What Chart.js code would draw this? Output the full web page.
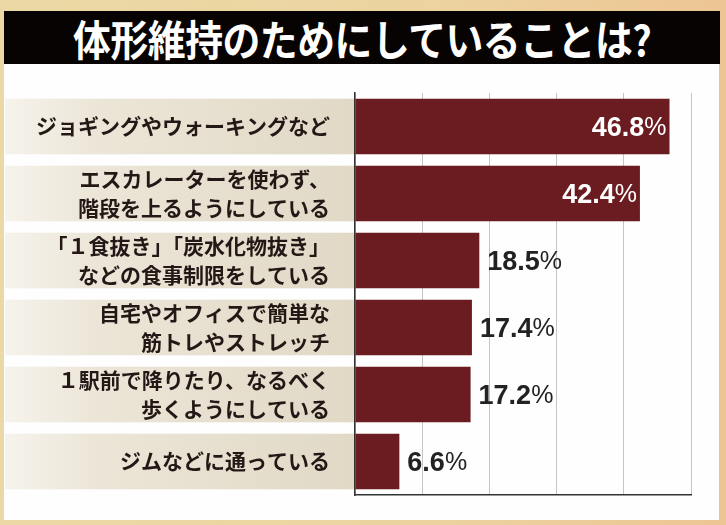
<!DOCTYPE html>
<html>
<head>
<meta charset="utf-8">
<script src="https://cdn.jsdelivr.net/npm/chart.js@4/dist/chart.umd.min.js"></script>
<style>
  html, body { margin: 0; padding: 0; }
  body { width: 726px; height: 525px; position: relative; overflow: hidden;
         background: linear-gradient(90deg, #ead9a4 0%, #ecd3a0 60%, #ecc593 100%); }
  #title { position: absolute; left: 4px; top: 11px; width: 716px; height: 53px; background: #070303;
           color: #fff; font-family: "Noto Sans CJK JP", sans-serif; font-weight: 700; font-size: 42px;
           line-height: 53px; text-align: center; overflow: hidden; }
  #title span { display: inline-block; transform: scaleX(0.9); letter-spacing: -0.5px; }
  #panel { position: absolute; left: 4px; top: 64px; width: 715px; height: 456px; background: #fefefe; }
  #c { position: absolute; left: 0; top: 0; }
</style>
</head>
<body>
<div id="title"><span>体形維持のためにしていることは?</span></div>
<div id="panel"><canvas id="c" width="715" height="456"></canvas></div>
<script>
const categories = [
  ["ジョギングやウォーキングなど"],
  ["エスカレーターを使わず、", "階段を上るようにしている"],
  ["「１食抜き」「炭水化物抜き」", "などの食事制限をしている"],
  ["自宅やオフィスで簡単な", "筋トレやストレッチ"],
  ["１駅前で降りたり、なるべく", "歩くようにしている"],
  ["ジムなどに通っている"]
];
const values = [46.8, 42.4, 18.5, 17.4, 17.2, 6.6];
const valueLabels = ["46.8", "42.4", "18.5", "17.4", "17.2", "6.6"];
const axisTicks = [0, 10, 20, 30, 40, 50];

const bandPlugin = {
  id: 'bands',
  beforeDraw(chart) {
    const ctx = chart.ctx;
    const meta = chart.getDatasetMeta(0);
    const left = 1, right = chart.scales.x.left;
    const g = ctx.createLinearGradient(left, 0, right, 0);
    g.addColorStop(0, '#f6f3ec');
    g.addColorStop(0.25, '#ece6d8');
    g.addColorStop(1, '#e1d9c6');
    ctx.save();
    ctx.fillStyle = g;
    meta.data.forEach(bar => {
      const h = bar.height;
      ctx.fillRect(left, bar.y - h / 2, right - left, h);
    });
    ctx.restore();
  }
};

const valuePlugin = {
  id: 'values',
  afterDatasetsDraw(chart) {
    const ctx = chart.ctx;
    const meta = chart.getDatasetMeta(0);
    ctx.save();
    ctx.textBaseline = 'middle';
    meta.data.forEach((bar, i) => {
      const num = valueLabels[i];
      const inside = values[i] > 30;
      const fNum = 'bold 27px "Liberation Sans", Arial, sans-serif';
      const fPct = '25px "Liberation Sans", Arial, sans-serif';
      ctx.font = fNum; const wNum = ctx.measureText(num).width;
      ctx.font = fPct; const wPct = ctx.measureText('%').width;
      let x;
      if (inside) { x = bar.x - 3 - wNum - wPct; ctx.fillStyle = '#ffffff'; }
      else { x = bar.x + 8; ctx.fillStyle = '#222222'; }
      const y = bar.y + 2;
      ctx.textAlign = 'left';
      ctx.font = fNum; ctx.fillText(num, x, y);
      ctx.font = fPct; ctx.fillText('%', x + wNum, y);
    });
    ctx.restore();
  }
};

new Chart(document.getElementById('c'), {
  type: 'bar',
  data: {
    labels: categories,
    datasets: [{
      data: values,
      backgroundColor: '#6b1c20',
      borderWidth: 0,
      barPercentage: 0.83,
      categoryPercentage: 1.0
    }]
  },
  options: {
    indexAxis: 'y',
    responsive: false,
    animation: false,
    devicePixelRatio: 1,
    layout: { padding: { left: 0, right: 28, top: 29, bottom: 25 } },
    plugins: { legend: { display: false }, tooltip: { enabled: false } },
    scales: {
      x: {
        min: axisTicks[0], max: axisTicks[axisTicks.length - 1],
        afterBuildTicks(scale) { scale.ticks = axisTicks.map(v => ({ value: v })); },
        ticks: { display: false },
        grid: { color: '#c4c4c4', lineWidth: 1, drawTicks: false },
        border: { display: true, color: '#333333', width: 1.5 }
      },
      y: {
        afterFit(scale) { scale.width = 351; scale.paddingTop = 0; scale.paddingBottom = 0; },
        grid: { display: false, drawTicks: false },
        border: { display: true, color: '#333333', width: 1.5 },
        ticks: {
          color: '#231815',
          padding: 25,
          font: { family: '"Noto Sans CJK JP", sans-serif', size: 21, weight: 'bold', lineHeight: 1.42 }
        }
      }
    }
  },
  plugins: [bandPlugin, valuePlugin]
});
</script>
</body>
</html>
